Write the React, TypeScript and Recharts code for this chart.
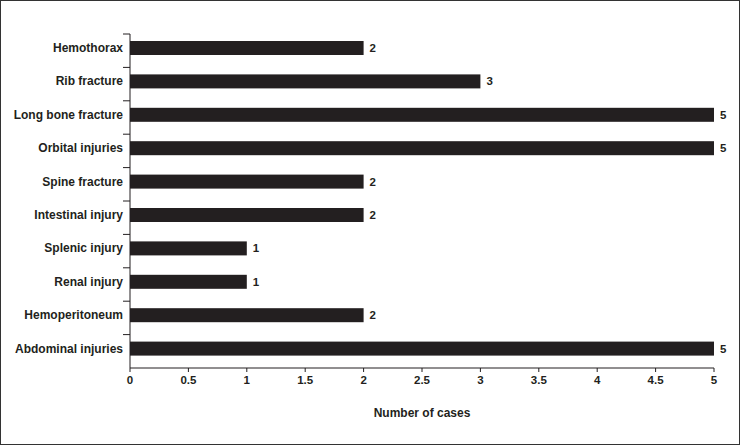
import { Bar, BarChart, LabelList, XAxis, YAxis } from "recharts";

const categories = [
  "Hemothorax",
  "Rib fracture",
  "Long bone fracture",
  "Orbital injuries",
  "Spine fracture",
  "Intestinal injury",
  "Splenic injury",
  "Renal injury",
  "Hemoperitoneum",
  "Abdominal injuries",
];
const cases = [2, 3, 5, 5, 2, 2, 1, 1, 2, 5];
const xTicks = [0, 0.5, 1, 1.5, 2, 2.5, 3, 3.5, 4, 4.5, 5];

const data = categories.map((name, i) => ({ name, cases: cases[i] }));

const INK = "#231f20";
const FONT = "'Liberation Sans', Arial, sans-serif";
const W = 743;
const H = 445;
const TOP = 34;
const BOTTOM = 77;
const BAND = (H - TOP - BOTTOM) / categories.length;
// bars sit a little above the middle of their band in the original
const LIFT = 3;

function CategoryTick(props: any) {
  const { x, y, payload } = props;
  return (
    <g>
      <line x1={x + 1} x2={x + 8} y1={y - BAND / 2} y2={y - BAND / 2} stroke={INK} strokeWidth={1} />
      <text
        x={x + 1}
        y={y - LIFT}
        dy="0.35em"
        textAnchor="end"
        fontSize={12}
        fontWeight="bold"
        fill={INK}
        fontFamily={FONT}
      >
        {payload.value}
      </text>
    </g>
  );
}

function LiftedBar(props: any) {
  const { x, y, width, height, fill } = props;
  return <rect x={x} y={y - LIFT} width={width} height={height} fill={fill} />;
}

function ValueLabel(props: any) {
  const { x, y, width, height, value } = props;
  return (
    <text
      x={x + width + 6}
      y={y + height / 2 - LIFT}
      dy="0.35em"
      fontSize={11.5}
      fontWeight="bold"
      fill={INK}
      fontFamily={FONT}
    >
      {value}
    </text>
  );
}

export default function App() {
  return (
    <div style={{ position: "absolute", left: 0, top: 0, width: W, height: H, background: "#fff" }}>
      <BarChart
        width={W}
        height={H}
        data={data}
        layout="vertical"
        margin={{ top: TOP, right: 29, bottom: 0, left: 0 }}
        style={{ fontFamily: FONT }}
      >
        <XAxis
          type="number"
          domain={[0, 5]}
          ticks={xTicks}
          height={BOTTOM}
          axisLine={{ stroke: INK }}
          tickLine={{ stroke: INK }}
          tickSize={4}
          tickMargin={4}
          tick={{ fontSize: 11.5, fontWeight: "bold", fill: INK }}
          label={{
            value: "Number of cases",
            position: "insideBottom",
            offset: 28,
            style: { fontSize: 12, fontWeight: "bold", fill: INK },
          }}
        />
        <YAxis
          type="category"
          dataKey="name"
          width={130}
          axisLine={{ stroke: INK }}
          tickLine={false}
          tick={<CategoryTick />}
          interval={0}
        />
        <Bar dataKey="cases" fill={INK} barSize={14} shape={<LiftedBar />} isAnimationActive={false}>
          <LabelList dataKey="cases" content={<ValueLabel />} />
        </Bar>
      </BarChart>
      <div
        style={{
          position: "absolute",
          left: 0,
          top: 0,
          width: 738,
          height: 443,
          border: "1px solid #333",
          pointerEvents: "none",
        }}
      />
    </div>
  );
}
